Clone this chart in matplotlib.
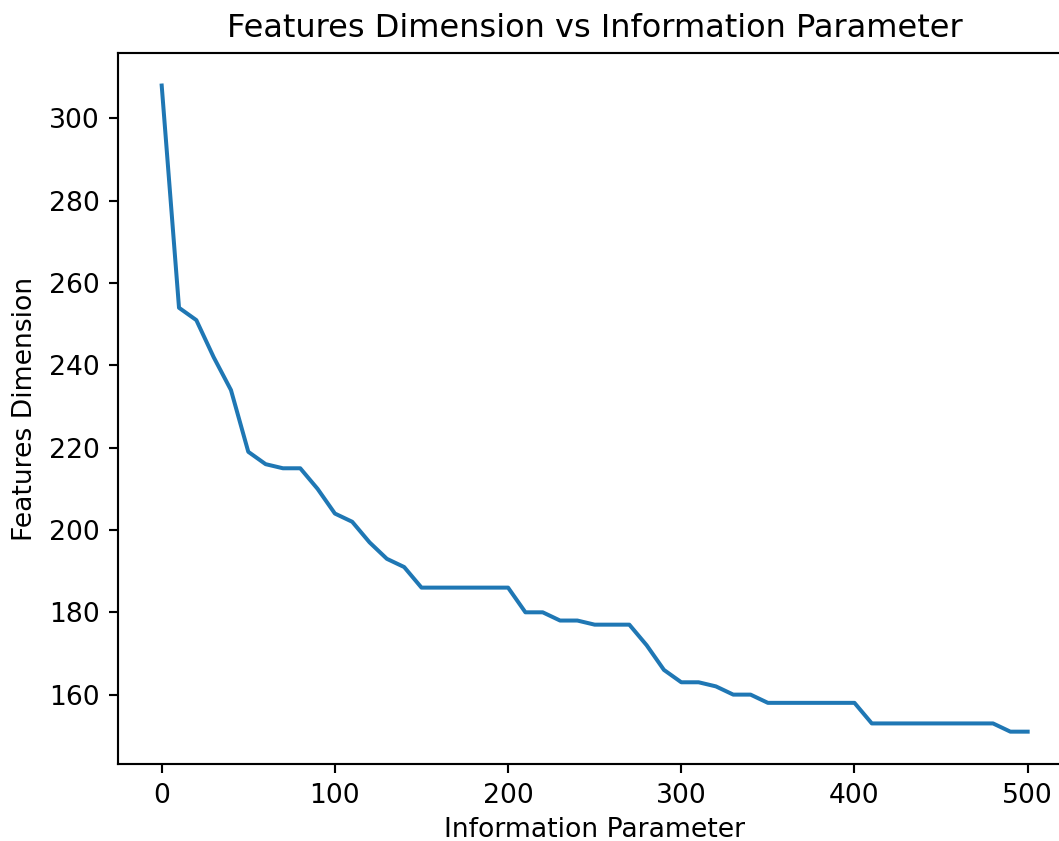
import matplotlib
matplotlib.use("Agg")
import matplotlib.pyplot as plt

# Information parameter sweep and resulting feature dimension
info_param = list(range(0, 501, 10))
features_dim = [
    308, 254, 251, 242, 234, 219, 216, 215, 215, 210,
    204, 202, 197, 193, 191, 186, 186, 186, 186, 186,
    186, 180, 180, 178, 178, 177, 177, 177, 172, 166,
    163, 163, 162, 160, 160, 158, 158, 158, 158, 158,
    158, 153, 153, 153, 153, 153, 153, 153, 153, 151,
    151,
]

dpi = 192
fig = plt.figure(figsize=(1059 / dpi, 841 / dpi), dpi=dpi)
# axes runs slightly past the right edge of the canvas
ax = fig.add_axes([0.1118, 0.0916, 0.8995, 0.8451])

ax.plot(info_param, features_dim)
ax.set_title("Features Dimension vs Information Parameter")
ax.set_xlabel("Information Parameter", labelpad=3.3)
ax.set_ylabel("Features Dimension")

fig.savefig("out.png", dpi=dpi)
plt.close(fig)
